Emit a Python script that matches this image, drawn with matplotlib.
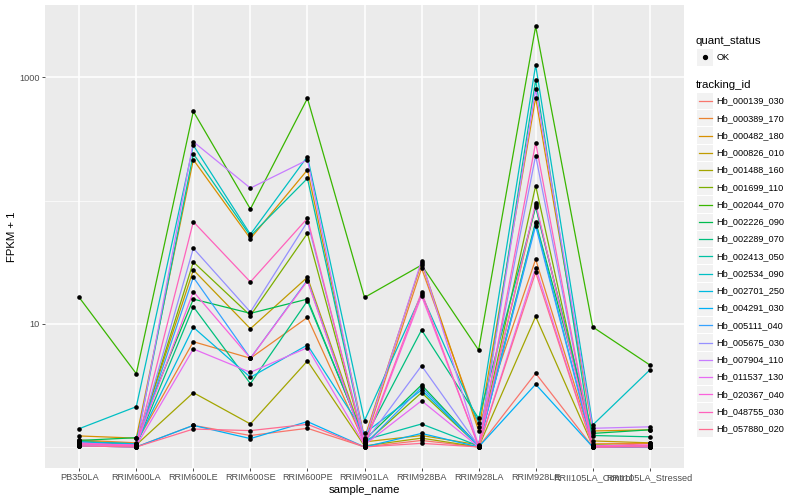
import matplotlib
matplotlib.use("Agg")
import matplotlib.pyplot as plt
from matplotlib.patches import Rectangle
from matplotlib.lines import Line2D
from matplotlib.ticker import NullFormatter

plt.rcParams['font.family'] = ['Liberation Sans', 'DejaVu Sans']

samples = ['PB350LA', 'RRIM600LA', 'RRIM600LE', 'RRIM600SE', 'RRIM600PE',
           'RRIM901LA', 'RRIM928BA', 'RRIM928LA', 'RRIM928LE',
           'RRII105LA_Control', 'RRII105LA_Stressed']

tracking_ids = ['Hb_000139_030', 'Hb_000389_170', 'Hb_000482_180', 'Hb_000826_010',
                'Hb_001488_160', 'Hb_001699_110', 'Hb_002044_070', 'Hb_002226_090',
                'Hb_002289_070', 'Hb_002413_050', 'Hb_002534_090', 'Hb_002701_250',
                'Hb_004291_030', 'Hb_005111_040', 'Hb_005675_030', 'Hb_007904_110',
                'Hb_011537_130', 'Hb_020367_040', 'Hb_048755_030', 'Hb_057880_020']

# FPKM + 1 per sample
hb_000139_030 = [1.03, 1.01, 1.51, 1.25, 1.43, 1.01, 1.14, 1.01, 3.99, 1.01, 1.08]
hb_000389_170 = [1.15, 1.09, 7.19, 5.28, 11.3, 1.09, 28.3, 1.47, 33.4, 1.07, 1.08]
hb_000482_180 = [1.24, 1.19, 214, 49.1, 177, 1.19, 31.4, 1.37, 680, 1.36, 1.39]
hb_000826_010 = [1.13, 1.07, 27.4, 9.16, 23.9, 1.11, 1.25, 1.05, 91.4, 1.13, 1.09]
hb_001488_160 = [1.07, 1.05, 2.78, 1.55, 5.02, 1.03, 1.19, 1.01, 11.5, 1.03, 1.02]
hb_001699_110 = [1.09, 1.05, 31.8, 11.7, 54.2, 1.07, 2.78, 1.03, 132, 1.05, 1.03]
hb_002044_070 = [16.4, 3.96, 527, 85.3, 672, 16.4, 30.0, 6.15, 2575, 9.46, 4.66]
hb_002226_090 = [1.14, 1.20, 15.9, 12.2, 15.9, 1.15, 3.21, 1.03, 67.3, 1.30, 1.39]
hb_002289_070 = [1.11, 1.05, 13.8, 3.29, 15.4, 1.17, 8.94, 1.72, 88.1, 1.25, 1.22]
hb_002413_050 = [1.11, 1.07, 239, 51.6, 151, 1.15, 1.55, 1.03, 946, 1.03, 1.01]
hb_002534_090 = [1.42, 2.14, 280, 53.2, 227, 1.65, 17.4, 1.59, 1250, 1.52, 4.24]
hb_002701_250 = [1.11, 1.07, 9.40, 3.70, 6.76, 1.30, 2.92, 1.03, 65.4, 1.03, 1.01]
hb_004291_030 = [1.03, 1.01, 1.51, 1.18, 1.62, 1.01, 1.30, 1.01, 3.25, 1.01, 1.01]
hb_005111_040 = [1.09, 1.03, 23.9, 5.28, 22.7, 1.05, 3.07, 1.03, 62.5, 1.01, 1.00]
hb_005675_030 = [1.03, 1.01, 41.0, 12.5, 67.3, 1.09, 4.59, 1.03, 231, 1.03, 1.01]
hb_007904_110 = [1.05, 1.03, 299, 126, 213, 1.13, 32.6, 1.03, 795, 1.43, 1.47]
hb_011537_130 = [1.09, 1.03, 6.28, 4.06, 6.43, 1.05, 2.39, 1.01, 28.6, 1.01, 1.03]
hb_020367_040 = [1.07, 1.05, 18.3, 5.28, 22.3, 1.03, 16.9, 1.03, 94.9, 1.03, 1.05]
hb_048755_030 = [1.07, 1.03, 67.3, 21.9, 71.8, 1.05, 18.1, 1.01, 294, 1.01, 1.03]
hb_057880_020 = [1.03, 1.01, 1.41, 1.37, 1.54, 1.01, 1.08, 1.01, 26.2, 1.01, 1.01]

series = [hb_000139_030, hb_000389_170, hb_000482_180, hb_000826_010, hb_001488_160,
          hb_001699_110, hb_002044_070, hb_002226_090, hb_002289_070, hb_002413_050,
          hb_002534_090, hb_002701_250, hb_004291_030, hb_005111_040, hb_005675_030,
          hb_007904_110, hb_011537_130, hb_020367_040, hb_048755_030, hb_057880_020]

colors = ['#F8766D', '#EA8331', '#D89000', '#C09B00', '#A3A500', '#7CAE00', '#39B600',
          '#00BB4E', '#00BF7D', '#00C1A3', '#00BFC4', '#00BAE0', '#00B0F6', '#35A2FF',
          '#9590FF', '#C77CFF', '#E76BF3', '#FA62DB', '#FF62BC', '#FF6C91']

W, H = 800, 500
fig = plt.figure(figsize=(W / 100, H / 100), dpi=100)
ax = fig.add_axes([45 / W, 32 / H, 639 / W, 463 / H])
ax.set_facecolor('#EBEBEB')
for s in ax.spines.values():
    s.set_visible(False)

x = list(range(len(samples)))
for vals, c in zip(series, colors):
    ax.plot(x, vals, color=c, lw=0.9, zorder=2)
for vals in series:
    ax.scatter(x, vals, s=11, color='black', zorder=3, linewidths=0)

ax.set_yscale('log')
ax.set_ylim(0.682, 3830)
ax.set_xlim(-0.6, len(samples) - 0.4)
ax.set_xticks(x)
ax.set_xticklabels(samples)
ax.set_yticks([10, 1000])
ax.set_yticklabels(['10', '1000'])
ax.set_yticks([1, 100], minor=True)
ax.yaxis.set_minor_formatter(NullFormatter())
ax.xaxis.set_minor_locator(matplotlib.ticker.NullLocator())
ax.tick_params(which='major', length=2.2, width=0.6, color='#333333',
               labelcolor='#4D4D4D', labelsize=6.6, pad=1.5)
ax.tick_params(which='minor', length=0)
ax.grid(which='major', color='white', lw=1.1, zorder=0)
ax.grid(which='minor', axis='y', color='white', lw=0.5, zorder=0)
ax.set_axisbelow(True)

ax.set_xlabel('sample_name', fontsize=8.2, labelpad=2)
ax.set_ylabel('FPKM + 1', fontsize=8.2, labelpad=1.5)


# legend, drawn in pixel positions of the figure
def fx(px):
    return px / W


def fy(py):
    return 1 - py / H


fig.text(fx(696), fy(41), 'quant_status', fontsize=8.2, va='center', ha='left')
fig.add_artist(Rectangle((fx(697), fy(65.5)), 16 / W, 16.5 / H, transform=fig.transFigure,
                         facecolor='#F2F2F2', edgecolor='none'))
fig.add_artist(Line2D([fx(705)], [fy(57)], marker='o', markersize=2.8, color='black',
                      transform=fig.transFigure))
fig.text(fx(716.5), fy(57), 'OK', fontsize=6.6, va='center', ha='left')

fig.text(fx(696), fy(85), 'tracking_id', fontsize=8.2, va='center', ha='left')
step = 17.25
for i, (name, c) in enumerate(zip(tracking_ids, colors)):
    yc = 101 + i * step
    fig.add_artist(Rectangle((fx(697), fy(yc + 8.2)), 16 / W, 16.4 / H,
                             transform=fig.transFigure, facecolor='#F2F2F2',
                             edgecolor='none'))
    fig.add_artist(Line2D([fx(698.5), fx(711.5)], [fy(yc), fy(yc)], color=c, lw=0.9,
                          transform=fig.transFigure))
    fig.text(fx(716.5), fy(yc), name, fontsize=6.6, va='center', ha='left')

fig.savefig('out.png', dpi=100)
